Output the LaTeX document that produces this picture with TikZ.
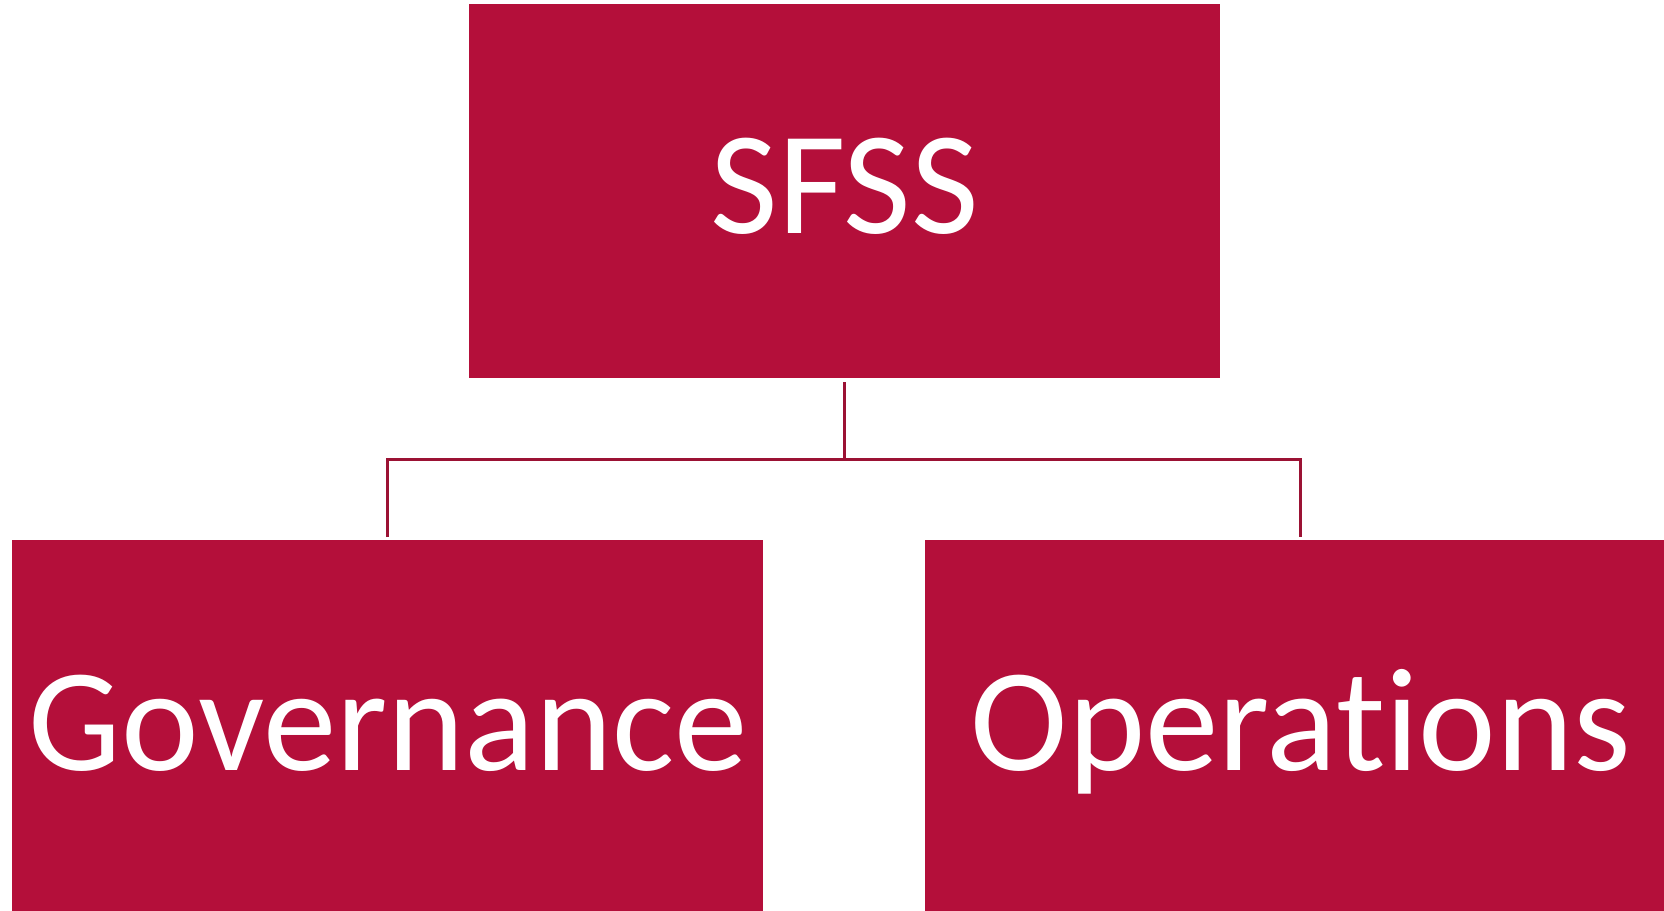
\documentclass[tikz,border=0pt]{standalone}
\usepackage{fontspec}
\setmainfont[RawFeature={-liga;-dlig}]{Carlito}
\definecolor{boxred}{RGB}{180,15,58}
\definecolor{linered}{RGB}{155,18,52}
\begin{document}
\begin{tikzpicture}[x=1pt,y=-1pt,
  box/.style={fill=boxred, draw=none, minimum width=751pt, minimum height=374pt, inner sep=0pt, outer sep=0pt, anchor=north west},
  lbl/.style={text=white, font=\fontsize{147}{170}\selectfont, anchor=base, inner sep=0pt},
  conn/.style={draw=linered, line width=3pt}]
\useasboundingbox (0,0) rectangle (1664,910);
\node[box] (top) at (469,4) {};
\node[box] (gov) at (12,540) {};
\node[box] (ops) at (925,540) {};
\node[lbl] (ltop) at (845,233) {SFSS};
\node[lbl] (lgov) at (388,770) {Governance};
\node[lbl] (lops) at (1301,770) {Operations};
\coordinate (hub) at ([yshift=-81pt]top.south);
\draw[conn] ([yshift=-4pt]top.south) -- (hub);
\draw[conn] ([yshift=3pt]gov.north) |- (hub) -| ([yshift=3pt]ops.north);
\end{tikzpicture}
\end{document}
